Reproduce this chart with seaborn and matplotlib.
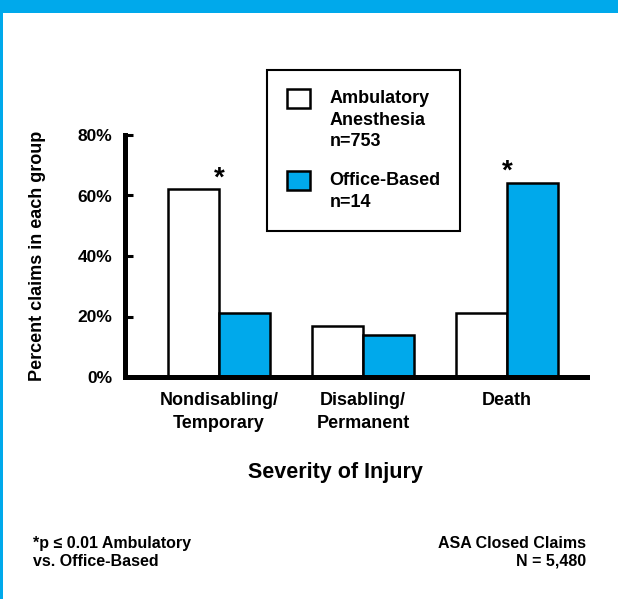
import pandas as pd
import matplotlib
matplotlib.use("Agg")
import matplotlib.pyplot as plt
import seaborn as sns
from matplotlib.patches import Patch, Rectangle
from matplotlib.legend_handler import HandlerPatch

# --- DATA ---
categories = ["Nondisabling/\nTemporary", "Disabling/\nPermanent", "Death"]
groups = ["Ambulatory\nAnesthesia\nn=753", "Office-Based\nn=14"]
ambulatory = [62, 17, 21]
office = [21, 14, 64]
significant = ["Nondisabling/\nTemporary", "Death"]
yticks = [0, 20, 40, 60, 80]
ytick_labels = ["0%", "20%", "40%", "60%", "80%"]

df = pd.DataFrame({
    "severity": categories * 2,
    "group": [groups[0]] * 3 + [groups[1]] * 3,
    "percent": ambulatory + office,
})

BLUE = "#00A9EB"

sns.set_theme(style="white", rc={
    "axes.edgecolor": "black", "text.color": "black",
    "xtick.color": "black", "ytick.color": "black",
})
plt.rcParams["font.family"] = ["Liberation Sans", "DejaVu Sans"]
plt.rcParams["font.weight"] = "bold"


class TopHandler(HandlerPatch):
    # put the legend square next to the first line of a multi-line label
    def __init__(self, shift):
        super().__init__()
        self.shift = shift

    def create_artists(self, legend, orig_handle, xdescent, ydescent,
                       width, height, fontsize, trans):
        return super().create_artists(legend, orig_handle, xdescent,
                                      ydescent - self.shift * fontsize,
                                      width, height, fontsize, trans)


fig = plt.figure(figsize=(6.18, 5.99), dpi=100)
W, H = 618, 599
ax = fig.add_axes([125 / W, 1 - 377 / H, 462 / W, 242 / H])

sns.barplot(data=df, x="severity", y="percent", hue="group",
            palette=["white", BLUE], saturation=1, edgecolor="black",
            linewidth=1.8, width=0.708, gap=0, legend=False, ax=ax)

ax.set_xlim(-0.653, 2.556)
ax.set_ylim(0, 80)
ax.set_yticks(yticks)
ax.set_yticklabels(ytick_labels)
ax.set_xlabel("")
ax.set_ylabel("")
sns.despine(ax=ax)
for s in ["left", "bottom"]:
    ax.spines[s].set_linewidth(3.6)
    ax.spines[s].set_color("black")
ax.tick_params(axis="y", direction="in", length=6, width=2.2, pad=9,
               labelsize=12.5, left=True)
ax.tick_params(axis="x", length=0, pad=11, labelsize=13)
for t in ax.get_xticklabels():
    t.set_fontweight("bold")
    t.set_linespacing(1.45)
for t in ax.get_yticklabels():
    t.set_fontweight("bold")

# significance stars
star_y = {"Nondisabling/\nTemporary": 63.1, "Death": 65.5}
for cat in significant:
    ax.text(categories.index(cat), star_y[cat], "*", ha="center",
            va="baseline", fontsize=20, fontweight="bold")

# legend
h1 = Patch(facecolor="white", edgecolor="black", linewidth=1.8)
h2 = Patch(facecolor=BLUE, edgecolor="black", linewidth=1.8)
leg = ax.legend([h1, h2], groups, loc="upper left",
                bbox_to_anchor=(0.307, 1.269), borderaxespad=0,
                fancybox=False, framealpha=1, edgecolor="black",
                prop={"size": 13, "weight": "bold"}, borderpad=1.1,
                handlelength=1.27, handleheight=1.27, handletextpad=1.1,
                labelspacing=1.2,
                handler_map={h1: TopHandler(1.22), h2: TopHandler(0.62)})
leg.get_frame().set_linewidth(1.5)
for t in leg.get_texts():
    t.set_linespacing(1.37)

# labels
fig.text(38 / W, 1 - 256 / H, "Percent claims in each group", rotation=90,
         ha="center", va="center", fontsize=13, fontweight="bold")
fig.text(335 / W, 1 - 478 / H, "Severity of Injury", ha="center",
         va="baseline", fontsize=15.5, fontweight="bold")

# footnotes
fig.text(33 / W, 1 - 548 / H, "*p \u2264 0.01 Ambulatory", ha="left",
         va="baseline", fontsize=11.5, fontweight="bold")
fig.text(33 / W, 1 - 566 / H, "vs. Office-Based", ha="left",
         va="baseline", fontsize=11.5, fontweight="bold")
fig.text(586 / W, 1 - 548 / H, "ASA Closed Claims", ha="right",
         va="baseline", fontsize=11.5, fontweight="bold")
fig.text(586 / W, 1 - 566 / H, "N = 5,480", ha="right",
         va="baseline", fontsize=11.5, fontweight="bold")

# blue frame pieces
fig.add_artist(Rectangle((0, 1 - 13 / H), 1, 13 / H, transform=fig.transFigure,
                         facecolor=BLUE, edgecolor="none"))
fig.add_artist(Rectangle((0, 0), 3 / W, 1, transform=fig.transFigure,
                         facecolor=BLUE, edgecolor="none"))

fig.savefig("out.png", dpi=100)
